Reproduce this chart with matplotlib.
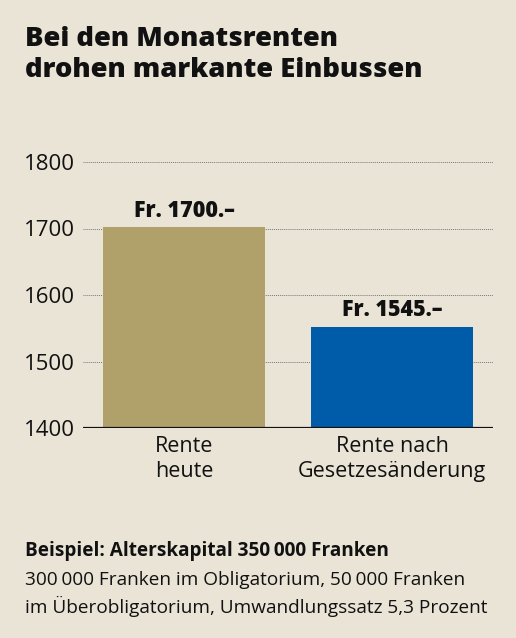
import matplotlib.pyplot as plt

categories = ['Rente\nheute', 'Rente nach\nGesetzesänderung']
values = [1702, 1552]
value_labels = ['Fr. 1700.–', 'Fr. 1545.–']
yticks = [1400, 1500, 1600, 1700, 1800]
colors = ['#B0A06A', '#005CA9']

bg = '#EAE4D7'
ink = '#111111'
body = ['Open Sans', 'DejaVu Sans']

fig = plt.figure(figsize=(5.16, 6.38), dpi=100, facecolor=bg)
ax = fig.add_axes([83 / 516, 1 - 428 / 638, 410 / 516, 266 / 638], facecolor=bg)

x = range(len(categories))
ax.bar(x, values, width=0.78, color=colors, zorder=3)
for i, (v, lab) in enumerate(zip(values, value_labels)):
    ax.text(i, v + 7, lab, ha='center', va='bottom', fontsize=15.5,
            family='Open Sans', fontweight='heavy', color=ink)

ax.set_ylim(1400, 1800)
ax.set_xlim(-0.486, 1.486)
ax.set_yticks(yticks)
ax.set_yticklabels([str(t) for t in yticks], family=body, fontsize=16, color=ink)
ax.set_xticks(list(x))
ax.set_xticklabels(categories, family=body, fontsize=15.5, color=ink, linespacing=1.25)
ax.tick_params(length=0, axis='y', pad=6)
ax.tick_params(length=0, axis='x', pad=6)
for s in ax.spines.values():
    s.set_visible(False)
ax.grid(axis='y', color='#777777', linestyle=(0, (1, 1)), linewidth=0.7, zorder=0)
ax.axhline(1400, color=ink, linewidth=1.6, zorder=4)

# titel, zeilen einzeln
fig.text(25 / 516, 1 - 46 / 638, 'Bei den Monatsrenten', family='Open Sans',
         fontweight='heavy', fontsize=19.7, color=ink, va='baseline')
fig.text(25 / 516, 1 - 77 / 638, 'drohen markante Einbussen', family='Open Sans',
         fontweight='heavy', fontsize=19.7, color=ink, va='baseline')

fig.text(25 / 516, 1 - 556 / 638, 'Beispiel: Alterskapital 350\u202f000 Franken',
         family=body, fontweight='bold', fontsize=13.7, color=ink, va='baseline')
fig.text(25 / 516, 1 - 585 / 638, '300\u202f000 Franken im Obligatorium, 50\u202f000 Franken',
         family=body, fontsize=13.7, color=ink, va='baseline')
fig.text(25 / 516, 1 - 613 / 638, 'im Überobligatorium, Umwandlungssatz 5,3 Prozent',
         family=body, fontsize=13.7, color=ink, va='baseline')

fig.savefig('out.png', dpi=100, facecolor=bg)
